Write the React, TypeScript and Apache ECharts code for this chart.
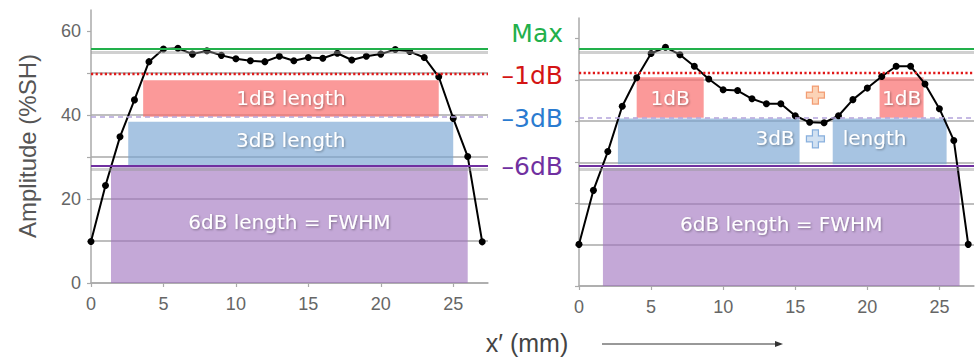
import React, { useEffect, useRef } from "react";
import * as echarts from "echarts";

// ---- data ----
const xPositions = [0, 1, 2, 3, 4, 5, 6, 7, 8, 9, 10, 11, 12, 13, 14, 15, 16, 17, 18, 19, 20, 21, 22, 23, 24, 25, 26, 27];
const leftAmplitude = [9.9, 23.2, 34.8, 43.6, 52.7, 55.7, 55.9, 54.5, 55.3, 54.2, 53.4, 52.9, 52.7, 54.0, 52.9, 53.7, 53.5, 54.7, 53.1, 54.0, 54.5, 55.6, 55.1, 53.7, 49.1, 39.2, 30.1, 9.8];
const rightAmplitude = [10.1, 23.2, 32.6, 43.6, 50.5, 56.4, 57.9, 56.1, 53.3, 50.2, 47.6, 47.4, 45.4, 44.2, 44.2, 41.3, 39.7, 39.6, 41.3, 45.2, 48.0, 50.8, 53.3, 53.3, 49.0, 43.0, 35.3, 10.1];

const xTickValues = [0, 5, 10, 15, 20, 25];
const yGridValues = [0, 10, 20, 30, 40, 50, 60];
const yLabelValues = [0, 20, 40, 60];

// level lines: Max, -1dB, -3dB, -6dB
const levelNames = ["Max", "–1dB", "–3dB", "–6dB"];
const leftLevels = [55.7, 49.8, 39.6, 28.0];
const rightLevels = [57.6, 51.6, 40.8, 29.1];

// boxes [x0, x1, y0, y1]
const leftBox1dB = [3.6, 24.0, 39.6, 48.3];
const leftBox3dB = [2.57, 25.0, 28.1, 38.4];
const leftBox6dB = [1.38, 26.0, 0, 27.6];
const rightBox1dBa = [4.0, 8.65, 40.8, 50.6];
const rightBox1dBb = [20.85, 23.9, 40.8, 50.6];
const rightBox3dBa = [2.7, 15.3, 29.5, 40.6];
const rightBox3dBb = [17.6, 25.5, 29.5, 40.6];
const rightBox6dB = [1.66, 26.4, 0, 28.6];

const orangeCross = [[16.4, 46.3]];
const blueCross = [[16.4, 35.7]];

// ---- styles ----
const levelColors = ["#22b04b", "#d41414", "#2a7bd0", "#7030a0"];
const RED_BOX = "rgba(250,110,110,0.7)";
const BLUE_BOX = "rgba(120,165,210,0.65)";
const PURPLE_BOX = "rgba(160,115,190,0.62)";
const BOX_FONT = "DejaVu Sans";
const PLUS_PATH = "path://M4,0H8V4H12V8H8V12H4V8H0V4H4Z";
const SHADOW_DROP = 0.85; // axis units the grey shadow sits below a solid level line

function App() {
  const ref = useRef<HTMLDivElement>(null);

  useEffect(() => {
    if (!ref.current) return;
    const chart = echarts.init(ref.current, undefined, { renderer: "svg" });

    const boxLabel = (extra: any = {}) => ({
      show: true,
      position: "inside",
      color: "#fff",
      fontSize: 20,
      fontFamily: BOX_FONT,
      textShadowColor: "rgba(0,0,0,0.35)",
      textShadowBlur: 2,
      textShadowOffsetX: 1,
      textShadowOffsetY: 1,
      ...extra,
    });

    const area = (b: number[], name: string, color: string, label: any) => [
      {
        name,
        xAxis: b[0],
        yAxis: b[3],
        itemStyle: { color },
        label,
      },
      { xAxis: b[1], yAxis: b[2] },
    ];

    const levelLines = (levels: number[]) => {
      const out: any[] = [];
      // grey drop shadows under the solid lines
      [0, 3].forEach((i) => {
        out.push({ yAxis: levels[i] - SHADOW_DROP, lineStyle: { color: "rgba(150,150,150,0.45)", width: 3, type: "solid" } });
      });
      levels.forEach((v, i) => {
        const base: any = { yAxis: v };
        if (i === 0) base.lineStyle = { color: levelColors[0], width: 2, type: "solid" };
        if (i === 1) base.lineStyle = { color: "#e01818", width: 2.4, type: [2.2, 2.4] };
        if (i === 2) base.lineStyle = { color: "#b4a4dc", width: 1.5, type: [5, 4] };
        if (i === 3) base.lineStyle = { color: levelColors[3], width: 2, type: "solid" };
        out.push(base);
      });
      return out;
    };

    const xAxisBase = (gridIndex: number) => ({
      type: "value",
      gridIndex,
      min: 0,
      max: 27.4,
      interval: 5,
      axisLine: { show: true, lineStyle: { color: "#aaa", width: 1.5 } },
      axisTick: { show: true, length: 4, customValues: xTickValues, lineStyle: { color: "#aaa", width: 1.2 } },
      axisLabel: { customValues: xTickValues, fontSize: 18, color: "#666", fontFamily: "Liberation Sans", margin: 12 },
      splitLine: { show: false },
    });

    const yAxisBase = (gridIndex: number, showLabels: boolean) => ({
      type: "value",
      gridIndex,
      min: 0,
      max: 65,
      interval: 10,
      axisLine: { show: true, lineStyle: { color: "#aaa", width: 1.5 } },
      axisTick: { show: true, length: 4, customValues: yGridValues, lineStyle: { color: "#aaa", width: 1.2 } },
      axisLabel: { show: showLabels, customValues: yLabelValues, fontSize: 18, color: "#666", fontFamily: "Liberation Sans", margin: 10 },
      splitLine: { show: true, showMaxLine: false, lineStyle: { color: "#a8a8a8", width: 1.5 } },
    });

    const curve = (data: number[], idx: number) => ({
      type: "line",
      xAxisIndex: idx,
      yAxisIndex: idx,
      data: xPositions.map((x, i) => [x, data[i]]),
      symbol: "circle",
      symbolSize: 7,
      showSymbol: true,
      lineStyle: { color: "#000", width: 2 },
      itemStyle: { color: "#000" },
      z: 4,
      silent: true,
    });

    const option: any = {
      animation: false,
      grid: [
        { left: 91, top: 10, width: 397, height: 273 },
        { left: 579, top: 18, width: 395, height: 268 },
      ],
      xAxis: [xAxisBase(0), xAxisBase(1)],
      yAxis: [yAxisBase(0, true), yAxisBase(1, false)],
      series: [
        {
          type: "line",
          xAxisIndex: 0,
          yAxisIndex: 0,
          data: [],
          z: 1,
          silent: true,
          markArea: {
            silent: true,
            data: [
              area(leftBox6dB, "6dB length = FWHM", PURPLE_BOX, boxLabel({ offset: [0, -3] })),
              area(leftBox3dB, "3dB length", BLUE_BOX, boxLabel({ offset: [0, -3] })),
              area(leftBox1dB, "1dB length", RED_BOX, boxLabel()),
            ],
          },
          markLine: {
            silent: true,
            symbol: "none",
            label: { show: false },
            data: levelLines(leftLevels),
          },
        },
        {
          type: "line",
          xAxisIndex: 1,
          yAxisIndex: 1,
          data: [],
          z: 1,
          silent: true,
          markArea: {
            silent: true,
            data: [
              area(rightBox6dB, "6dB length = FWHM", PURPLE_BOX, boxLabel({ offset: [0, -3] })),
              area(rightBox3dBa, "3dB", BLUE_BOX, boxLabel({ position: "insideRight", distance: 5, offset: [0, -3] })),
              area(rightBox3dBb, "length", BLUE_BOX, boxLabel({ position: "insideLeft", distance: 10, offset: [0, -3] })),
              area(rightBox1dBa, "1dB", RED_BOX, boxLabel()),
              area(rightBox1dBb, "1dB", RED_BOX, boxLabel()),
            ],
          },
          markLine: {
            silent: true,
            symbol: "none",
            label: { show: false },
            data: levelLines(rightLevels),
          },
        },
        curve(leftAmplitude, 0),
        curve(rightAmplitude, 1),
        {
          type: "scatter",
          xAxisIndex: 1,
          yAxisIndex: 1,
          data: orangeCross,
          symbol: PLUS_PATH,
          symbolSize: [18, 18],
          itemStyle: { color: "#fbc8a4", borderColor: "#ef8a5a", borderWidth: 1.2 },
          z: 5,
          silent: true,
        },
        {
          type: "scatter",
          xAxisIndex: 1,
          yAxisIndex: 1,
          data: blueCross,
          symbol: PLUS_PATH,
          symbolSize: [18, 18],
          itemStyle: { color: "#c6daef", borderColor: "#6f9fd6", borderWidth: 1.2 },
          z: 5,
          silent: true,
        },
      ],
      graphic: [
        {
          type: "text",
          x: 27,
          y: 146,
          rotation: Math.PI / 2,
          style: {
            text: "Amplitude (%SH)",
            fontSize: 24,
            fontFamily: "Liberation Sans",
            fill: "#555",
            align: "center",
            verticalAlign: "middle",
          },
        },
        {
          type: "text",
          x: 527,
          y: 343,
          style: {
            text: "x′ (mm)",
            fontSize: 25,
            fontFamily: "Liberation Sans",
            fill: "#444",
            align: "center",
            verticalAlign: "middle",
          },
        },
        {
          type: "line",
          shape: { x1: 602, y1: 344, x2: 778, y2: 344 },
          style: { stroke: "#333", lineWidth: 1 },
        },
        {
          type: "polygon",
          shape: { points: [[775, 341], [783, 344], [775, 347]] },
          style: { fill: "#333" },
        },
        ...levelNames.map((t, i) => ({
          type: "text",
          x: 563,
          y: [33, 75, 118, 166][i],
          style: {
            text: t,
            fontSize: 25,
            fontFamily: BOX_FONT,
            fill: levelColors[i],
            align: "right",
            verticalAlign: "middle",
          },
        })),
      ],
    };

    chart.setOption(option);
    return () => chart.dispose();
  }, []);

  return (
    <div
      ref={ref}
      style={{ position: "absolute", left: 0, top: 0, width: 979, height: 358, background: "#fff" }}
    />
  );
}

export default App;
